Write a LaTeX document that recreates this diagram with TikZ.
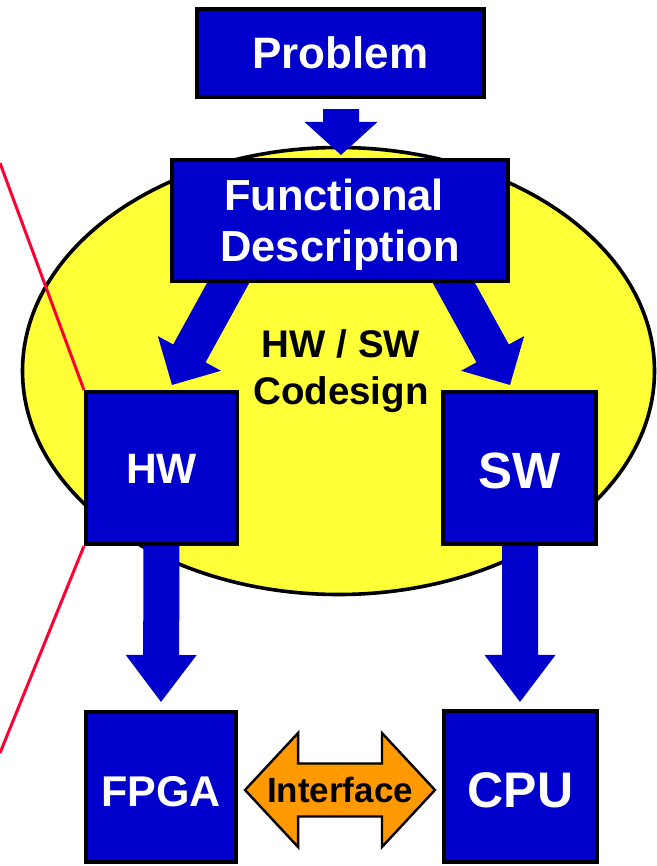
\documentclass[tikz,border=0pt]{standalone}
\usepackage{fontspec}
\setmainfont{Liberation Sans}
\usetikzlibrary{calc}

\definecolor{boxblue}{RGB}{0,0,204}
\definecolor{zoneyellow}{RGB}{255,255,56}
\definecolor{ifaceorange}{RGB}{255,153,0}
\definecolor{calloutred}{RGB}{255,0,51}

\pgfdeclarelayer{back}
\pgfdeclarelayer{flow}
\pgfsetlayers{back,flow,main}

% Block arrow: #1 start, #2 tip, #3 shaft half width, #4 head half width, #5 head length
\newcommand\blockarrow[5]{%
  \coordinate (ba-h) at ($(#2)!#5!(#1)$);
  \fill[boxblue]
    ($(#1)!#3!90:(#2)$) --
    ($(ba-h)!#3!-90:(#1)$) --
    ($(ba-h)!#4!-90:(#1)$) --
    (#2) --
    ($(ba-h)!#4!90:(#1)$) --
    ($(ba-h)!#3!90:(#1)$) --
    ($(#1)!#3!-90:(#2)$) -- cycle;
}

\tikzset{
  box/.style={draw=black, line width=3.6pt, fill=boxblue, text=white,
    inner sep=0pt, text depth=0pt, font=\bfseries},
  callout/.style={draw=calloutred, line width=3pt},
  sz/.style={font=\fontsize{#1}{#1}\bfseries\selectfont},
}

\begin{document}
\begin{tikzpicture}[x=1pt,y=-1pt]
\useasboundingbox (0,0) rectangle (656,866);

% blocks
\node[box, minimum width=287.5pt, minimum height=88.5pt, text height=31.5pt,
      sz=44] (prob) at (340.5,53) {Problem};
\node[box, minimum width=336.5pt, minimum height=121.5pt, align=center,
      font=\fontsize{43.5}{51}\bfseries\selectfont] (fd) at (340,220.5)
      {Functional\kern12pt\\\smash{Description}};
\node[box, minimum width=151.5pt, minimum height=152.5pt, text height=31pt,
      sz=42.5] (hw) at (161.5,468) {HW};
\node[box, minimum width=153.5pt, minimum height=152.5pt, text height=41pt,
      sz=51] (sw) at (519.5,468) {SW};
\node[box, minimum width=150.5pt, minimum height=150.5pt, text height=38.8pt,
      sz=43] (fpga) at (161,787) {FPGA};
\node[box, minimum width=153.5pt, minimum height=151.5pt, text height=42.8pt,
      sz=50] (cpu) at (520.5,786.5) {CPU};

% codesign zone
\begin{pgfonlayer}{back}
  \filldraw[fill=zoneyellow, draw=black, line width=3.6pt]
    (338.5,371) ellipse [x radius=316pt, y radius=223.5pt];
\end{pgfonlayer}

\node[align=center, font=\fontsize{38.5}{47}\bfseries\selectfont]
  (codesign) at (341,367) {HW / SW\\\smash{Codesign}};

% flow arrows
\coordinate (a0s) at ($(prob.south)+(0.5,10)$);
\coordinate (a0t) at ($(fd.north)+(1,-3)$);
\coordinate (a1s) at ($(fd.south)+(-102,-18)$);
\coordinate (a1t) at ($(hw.north)+(10.5,-5)$);
\coordinate (a2s) at ($(fd.south)+(104,-18)$);
\coordinate (a2t) at ($(sw.north)+(-9.5,-5)$);
\coordinate (a3s) at ($(hw.south)+(0,-8)$);
\coordinate (a3t) at ($(fpga.north)+(0,-8)$);
\coordinate (a4s) at ($(sw.south)+(0.5,-8)$);
\coordinate (a4t) at ($(cpu.north)+(-0.5,-7)$);
\begin{pgfonlayer}{flow}
  \blockarrow{a0s}{a0t}{18pt}{36.5pt}{33pt}
  \blockarrow{a1s}{a1t}{18.5pt}{36pt}{36pt}
  \blockarrow{a2s}{a2t}{18.5pt}{36pt}{36pt}
  \blockarrow{a3s}{a3t}{18pt}{35.5pt}{47pt}
  \blockarrow{a4s}{a4t}{18pt}{35.5pt}{47pt}
\end{pgfonlayer}

% interface double arrow
\coordinate (ifl) at ($(fpga.east)+(7,3)$);
\coordinate (ifr) at ($(cpu.west)+(-7,3.5)$);
\coordinate (ifhl) at ($(ifl)!53pt!(ifr)$);
\coordinate (ifhr) at ($(ifr)!53pt!(ifl)$);
\filldraw[fill=ifaceorange, draw=black, line width=2.4pt, line join=miter]
  (ifl) --
  ($(ifhl)!57pt!90:(ifr)$) --
  ($(ifhl)!26.5pt!90:(ifr)$) --
  ($(ifhr)!26.5pt!-90:(ifl)$) --
  ($(ifhr)!57pt!-90:(ifl)$) --
  (ifr) --
  ($(ifhr)!57pt!90:(ifl)$) --
  ($(ifhr)!26.5pt!90:(ifl)$) --
  ($(ifhl)!26.5pt!-90:(ifr)$) --
  ($(ifhl)!57pt!-90:(ifr)$) -- cycle;
\node[sz=35, text height=25pt] (iface) at ($(ifl)!0.5!(ifr)$) {Interface};

% callout lines
\coordinate (ctop) at (0,163);
\coordinate (cbot) at (0,753);
\draw[callout] (ctop) -- (hw.north west);
\draw[callout] (hw.south west) -- (cbot);
\end{tikzpicture}
\end{document}
